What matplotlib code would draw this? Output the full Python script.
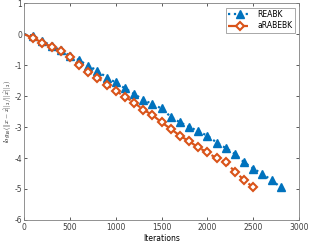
import numpy as np
import matplotlib.pyplot as plt

# iterations at which markers sit (lines start at 0)
iters_reabk = [0, 100, 200, 300, 400, 500, 600, 700, 800, 900, 1000, 1100, 1200, 1300,
               1400, 1500, 1600, 1700, 1800, 1900, 2000, 2100, 2200, 2300, 2400, 2500,
               2600, 2700, 2800]
err_reabk = [0.0, -0.05, -0.22, -0.38, -0.52, -0.70, -0.84, -1.02, -1.18, -1.40, -1.56,
             -1.75, -1.93, -2.12, -2.26, -2.40, -2.67, -2.85, -2.99, -3.14, -3.28, -3.50,
             -3.68, -3.87, -4.14, -4.34, -4.52, -4.71, -4.95]

iters_arabebk = [0, 100, 200, 300, 400, 500, 600, 700, 800, 900, 1000, 1100, 1200, 1300,
                 1400, 1500, 1600, 1700, 1800, 1900, 2000, 2100, 2200, 2300, 2400, 2500]
err_arabebk = [0.0, -0.13, -0.27, -0.41, -0.56, -0.75, -1.0, -1.22, -1.40, -1.64, -1.83,
               -2.02, -2.21, -2.44, -2.61, -2.85, -3.06, -3.28, -3.46, -3.66, -3.82, -4.01,
               -4.14, -4.44, -4.71, -4.95]

blue = '#0072BD'
orange = '#D95319'
axcol = '#808080'

plt.rcParams['font.family'] = 'DejaVu Sans'
plt.rcParams['font.size'] = 5.5
plt.rcParams['mathtext.fontset'] = 'cm'
plt.rcParams['axes.unicode_minus'] = False

fig = plt.figure(figsize=(3.09, 2.46), dpi=100)
ax = fig.add_axes([0.078, 0.106, 0.89, 0.881])

ax.plot(iters_reabk, err_reabk, ':', color=blue, lw=1.6, marker='^', ms=6,
        mfc=blue, mec=blue, markevery=list(range(1, len(iters_reabk))), label='REABK')
ax.plot(iters_arabebk, err_arabebk, '--', color=orange, lw=1.6, marker='D', ms=4,
        mfc='white', mec=orange, mew=1.5, markevery=list(range(1, len(iters_arabebk))),
        label='aRABEBK')

ax.set_xlim(0, 3000)
ax.set_ylim(-6, 1)
ax.set_xticks(np.arange(0, 3001, 500))
ax.set_yticks(np.arange(-6, 2, 1))
ax.tick_params(direction='in', length=2.5, width=0.6, colors='#404040', top=True, right=True,
               labeltop=False, labelright=False, pad=2, labelsize=5.5)
ax.tick_params(axis='y', pad=1.5)
for s in ax.spines.values():
    s.set_color(axcol)
    s.set_linewidth(0.6)

ax.set_xlabel('Iterations', fontsize=5.5, labelpad=2)
ax.set_ylabel(r'$log_{10}(||x-\hat{x}||_2/||\hat{x}||_2)$', fontsize=4.8, va='center')
ax.yaxis.set_label_coords(-0.06, 0.5)

leg = ax.legend(loc='upper right', fontsize=5.5, frameon=True, fancybox=False,
                edgecolor=axcol, borderpad=0.3, handlelength=3, borderaxespad=0.6,
                labelspacing=0.3)
leg.get_frame().set_linewidth(0.6)

fig.savefig('out.png', dpi=100)
